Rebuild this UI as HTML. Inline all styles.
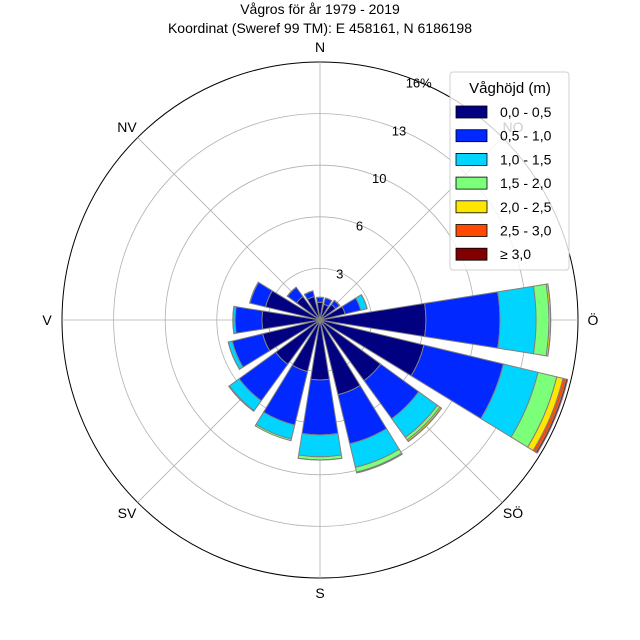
<!DOCTYPE html>
<html><head><meta charset="utf-8"><style>
body{margin:0;background:#fff}
svg{display:block;font-family:"Liberation Sans",sans-serif}
</style></head><body>
<svg id="c" width="640" height="640" viewBox="0 0 640 640">
<rect width="640" height="640" fill="#fff"/>
<text x="320" y="14" text-anchor="middle" font-size="14">Vågros för år 1979 - 2019</text>
<text x="320" y="33" text-anchor="middle" font-size="14">Koordinat (Sweref 99 TM): E 458161, N 6186198</text>
<g id="grid"></g><g id="bars"></g><g id="labels"></g>
<g id="legend"></g>
</svg>
<script>
const directions=["N","NNO","NO","ONO","Ö","OSO","SO","SSO","S","SSV","SV","VSV","V","VNV","NV","NNV"];
const bin0=[1.1,1.0,1.2,1.6,6.57,6.63,4.65,4.77,3.72,3.29,3.4,3.66,3.6,3.47,1.8,1.5];
const bin1=[0.3,0.4,0.3,1.0,4.59,5.07,2.92,3.13,3.41,3.41,2.8,1.94,1.67,1.0,0.7,0.35];
const bin2=[0.02,0.01,0.02,0.4,2.24,2.2,1.43,1.5,1.35,0.9,0.75,0.25,0.13,0.02,0.02,0.02];
const bin3=[0,0,0,0.01,0.8,1.2,0.2,0.3,0.2,0.1,0.05,0.01,0.01,0,0,0];
const bin4=[0,0,0,0,0.1,0.4,0.1,0.05,0.01,0,0,0,0,0,0,0];
const bin5=[0,0,0,0,0.01,0.2,0.02,0.01,0,0,0,0,0,0,0,0];
const bin6=[0,0,0,0,0,0.1,0,0,0,0,0,0,0,0,0,0];
const binLabels=["0,0 - 0,5","0,5 - 1,0","1,0 - 1,5","1,5 - 2,0","2,0 - 2,5","2,5 - 3,0","≥ 3,0"];
const ringValues=[3.2,6.4,9.6,12.8,16];
const ringLabels=["3","6","10","13","16%"];
const compassLabels=["N","","Ö","SÖ","S","SV","V","NV"];
const compassAngles=[0,45,90,135,180,225,270,315];
const rMax=16;
const bins=[bin0,bin1,bin2,bin3,bin4,bin5,bin6];
const colors=["#000080","#0028ff","#00d4ff","#7cff79","#ffe600","#ff4a00","#800000"];
const CX=320,CY=320,R=258,NS="http://www.w3.org/2000/svg";
const rs=v=>v/rMax*R;
const pt=(deg,r)=>{const a=(deg-90)*Math.PI/180;return [CX+r*Math.cos(a),CY+r*Math.sin(a)];};
function mk(tag,attrs,parent){const e=document.createElementNS(NS,tag);for(const k in attrs)e.setAttribute(k,attrs[k]);parent.appendChild(e);return e;}
const grid=document.getElementById('grid');
ringValues.forEach((v,i)=>{const c=mk('circle',{cx:CX,cy:CY,r:rs(v),fill:'none',stroke:i==4?'#000':'#b0b0b0','stroke-width':i==4?1:0.8},grid);

});
compassAngles.forEach(a=>{const p=pt(a,R);const l=mk('line',{x1:CX,y1:CY,x2:p[0],y2:p[1],stroke:'#b0b0b0','stroke-width':0.8},grid);

});
const bars=document.getElementById('bars');
const half=9;
directions.forEach((d,i)=>{let cum=0;const ang=i*22.5;
bins.forEach((b,j)=>{const v=b[i];if(v<=0)return;const r0=rs(cum),r1=rs(cum+v);cum+=v;
const a0=ang-half,a1=ang+half;const p0=pt(a0,r0),p1=pt(a0,r1),p2=pt(a1,r1),p3=pt(a1,r0);
const dd=`M${p0} L${p1} A${r1},${r1} 0 0 1 ${p2} L${p3} `+(r0>0?`A${r0},${r0} 0 0 0 ${p0}`:'')+'Z';
const p=mk('path',{d:dd,fill:colors[j],stroke:'#808080','stroke-width':1,'stroke-linejoin':'round'},bars);

});});
const lab=document.getElementById('labels');
ringValues.forEach((v,i)=>{const p=pt(22.5,rs(v));const t=mk('text',{x:p[0],y:p[1]+6,'text-anchor':'middle','font-size':13},lab);t.textContent=ringLabels[i];

});
compassAngles.forEach((a,i)=>{if(!compassLabels[i])return;const p=pt(a,R+15);const t=mk('text',{x:p[0],y:p[1]+5,'text-anchor':'middle','font-size':14},lab);t.textContent=compassLabels[i];

});
{const p=pt(45,R+15);const t=mk('text',{x:p[0],y:p[1]+5,'text-anchor':'middle','font-size':14},lab);t.textContent="NO";

}
const lg=document.getElementById('legend');
mk('rect',{x:450,y:72,width:119,height:198,rx:3,fill:'#fff','fill-opacity':0.8,stroke:'#d0d0d0'},lg);
const lt=mk('text',{x:510,y:93,'text-anchor':'middle','font-size':15},lg);lt.textContent="Våghöjd (m)";


binLabels.forEach((s,j)=>{const y=112+j*23.7;
const r=mk('rect',{x:456,y:y-6,width:31,height:12,fill:colors[j],stroke:'#000','stroke-width':0.8},lg);


const t=mk('text',{x:500,y:y+5,'font-size':14},lg);t.textContent=s;

});
</script>
</body></html>
